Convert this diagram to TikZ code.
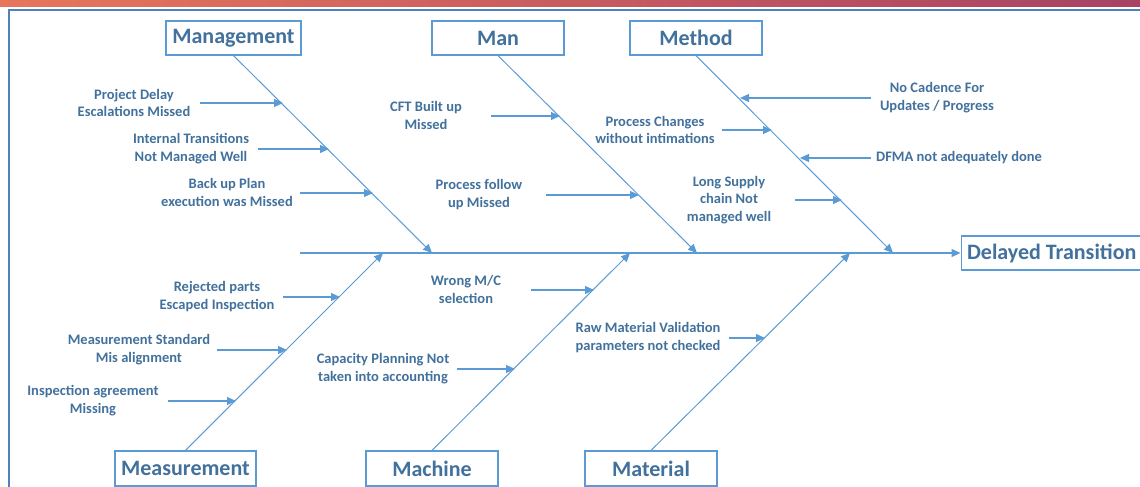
\documentclass[tikz,border=0pt]{standalone}
\usepackage{fontspec}
\setmainfont{Carlito}
\usetikzlibrary{positioning, arrows.meta, calc}

\definecolor{boneblue}{RGB}{91,155,213}
\definecolor{textblue}{RGB}{65,113,156}
\definecolor{frameblue}{RGB}{79,129,189}
\definecolor{bandleft}{RGB}{230,118,92}
\definecolor{bandright}{RGB}{168,66,100}

\begin{document}
\begin{tikzpicture}[x=1pt, y=-1pt,
    catbox/.style={draw=boneblue, line width=1.2pt, fill=white, text=textblue, font=\bfseries\fontsize{22}{26}\selectfont, minimum height=34pt, inner sep=0pt},
    cause/.style={text=textblue, font=\bfseries\fontsize{14.5}{17.5}\selectfont, align=center, inner sep=0pt},
    bone/.style={draw=boneblue, line width=1pt, -{Triangle[length=9pt, width=8pt]}},
    causearrow/.style={draw=boneblue, line width=1.2pt, -{Triangle[length=9pt, width=8pt]}}
]
    \useasboundingbox (0,0) rectangle (1140,487);

    % Header band and frame
    \shade[left color=bandleft, right color=bandright] (0,0) rectangle (1140,6.5);
    \draw[frameblue, line width=2pt] (9,487) -- (9,10) -- (1140,10);

    % Categories
    \node[catbox, minimum width=135pt] (mgmt) at (233.5,38) {Management};
    \node[catbox, minimum width=132pt] (man) at (498,38) {Man};
    \node[catbox, minimum width=132pt] (method) at (696,38) {Method};
    \node[catbox, minimum width=141pt, minimum height=35pt] (meas) at (185.5,468.5) {Measurement};
    \node[catbox, minimum width=132pt, minimum height=35pt] (machine) at (432,468.5) {Machine};
    \node[catbox, minimum width=132pt, minimum height=35pt] (material) at (651,468.5) {Material};

    % Effect
    \node[catbox, anchor=west, inner xsep=6pt] (effect) at (960.5,253) {Delayed Transition};

    % Spine
    \coordinate (tail) at (300,253);
    \draw[causearrow, line width=1.3pt] (tail) -- (effect.west);

    % Bones
    \coordinate (jMgmt) at (432,253);
    \coordinate (jMan) at (697,253);
    \coordinate (jMethod) at (893,253);
    \coordinate (jMeas) at (383,253);
    \coordinate (jMachine) at (630,253);
    \coordinate (jMaterial) at (850,253);
    \draw[bone] (mgmt.south) -- (jMgmt);
    \draw[bone] (man.south) -- (jMan);
    \draw[bone] (method.south) -- (jMethod);
    \draw[bone] (meas.north) -- (jMeas);
    \draw[bone] (machine.north) -- (jMachine);
    \draw[bone] (material.north) -- (jMaterial);

    % Management causes
    \node[cause] (delay) at (134,103) {Project Delay\\Escalations Missed};
    \coordinate (delayS) at (200,103);
    \coordinate (delayE) at (283,103);
    \draw[causearrow] (delayS) -- (delayE);
    \node[cause] (transit) at (191,148.5) {Internal Transitions\\Not Managed Well};
    \coordinate (transitS) at (258,149);
    \coordinate (transitE) at (329,149);
    \draw[causearrow] (transitS) -- (transitE);
    \node[cause] (backup) at (227,192.5) {Back up Plan\\execution was Missed};
    \coordinate (backupS) at (300,193);
    \coordinate (backupE) at (373,193);
    \draw[causearrow] (backupS) -- (backupE);

    % Man causes
    \node[cause] (cft) at (426,115.5) {CFT Built up\\Missed};
    \coordinate (cftS) at (491,116);
    \coordinate (cftE) at (560,116);
    \draw[causearrow] (cftS) -- (cftE);
    \node[cause] (follow) at (479,194.5) {Process follow\\up Missed};
    \coordinate (followS) at (546,195);
    \coordinate (followE) at (639,195);
    \draw[causearrow] (followS) -- (followE);

    % Method causes
    \node[cause] (cadence) at (937,97.5) {No Cadence For\\Updates / Progress};
    \coordinate (cadenceS) at (871,98);
    \coordinate (cadenceE) at (740,98);
    \draw[causearrow] (cadenceS) -- (cadenceE);
    \node[cause] (changes) at (655,130) {Process Changes\\without intimations};
    \coordinate (changesS) at (722,130);
    \coordinate (changesE) at (772,130);
    \draw[causearrow] (changesS) -- (changesE);
    \node[cause] (dfma) at (959,158) {DFMA not adequately done};
    \coordinate (dfmaS) at (871,158);
    \coordinate (dfmaE) at (800,158);
    \draw[causearrow] (dfmaS) -- (dfmaE);
    \node[cause] (supply) at (729,200) {Long Supply\\chain Not\\managed well};
    \coordinate (supplyS) at (795,200);
    \coordinate (supplyE) at (842,200);
    \draw[causearrow] (supplyS) -- (supplyE);

    % Measurement causes
    \node[cause] (reject) at (217,296.5) {Rejected parts\\Escaped Inspection};
    \coordinate (rejectS) at (283,297);
    \coordinate (rejectE) at (340,297);
    \draw[causearrow] (rejectS) -- (rejectE);
    \node[cause] (standard) at (139,349.5) {Measurement Standard\\Mis alignment};
    \coordinate (standardS) at (217,350);
    \coordinate (standardE) at (287,350);
    \draw[causearrow] (standardS) -- (standardE);
    \node[cause] (agree) at (93,400.5) {Inspection agreement\\Missing};
    \coordinate (agreeS) at (168,401);
    \coordinate (agreeE) at (236,401);
    \draw[causearrow] (agreeS) -- (agreeE);

    % Machine causes
    \node[cause] (wrong) at (466,289.5) {Wrong M/C\\selection};
    \coordinate (wrongS) at (531,290);
    \coordinate (wrongE) at (594,290);
    \draw[causearrow] (wrongS) -- (wrongE);
    \node[cause] (capacity) at (383,368.5) {Capacity Planning Not\\taken into accounting};
    \coordinate (capacityS) at (457,369);
    \coordinate (capacityE) at (515,369);
    \draw[causearrow] (capacityS) -- (capacityE);

    % Material causes
    \node[cause] (raw) at (648,337.5) {Raw Material Validation\\parameters not checked};
    \coordinate (rawS) at (729,338);
    \coordinate (rawE) at (765,338);
    \draw[causearrow] (rawS) -- (rawE);

\end{tikzpicture}
\end{document}
